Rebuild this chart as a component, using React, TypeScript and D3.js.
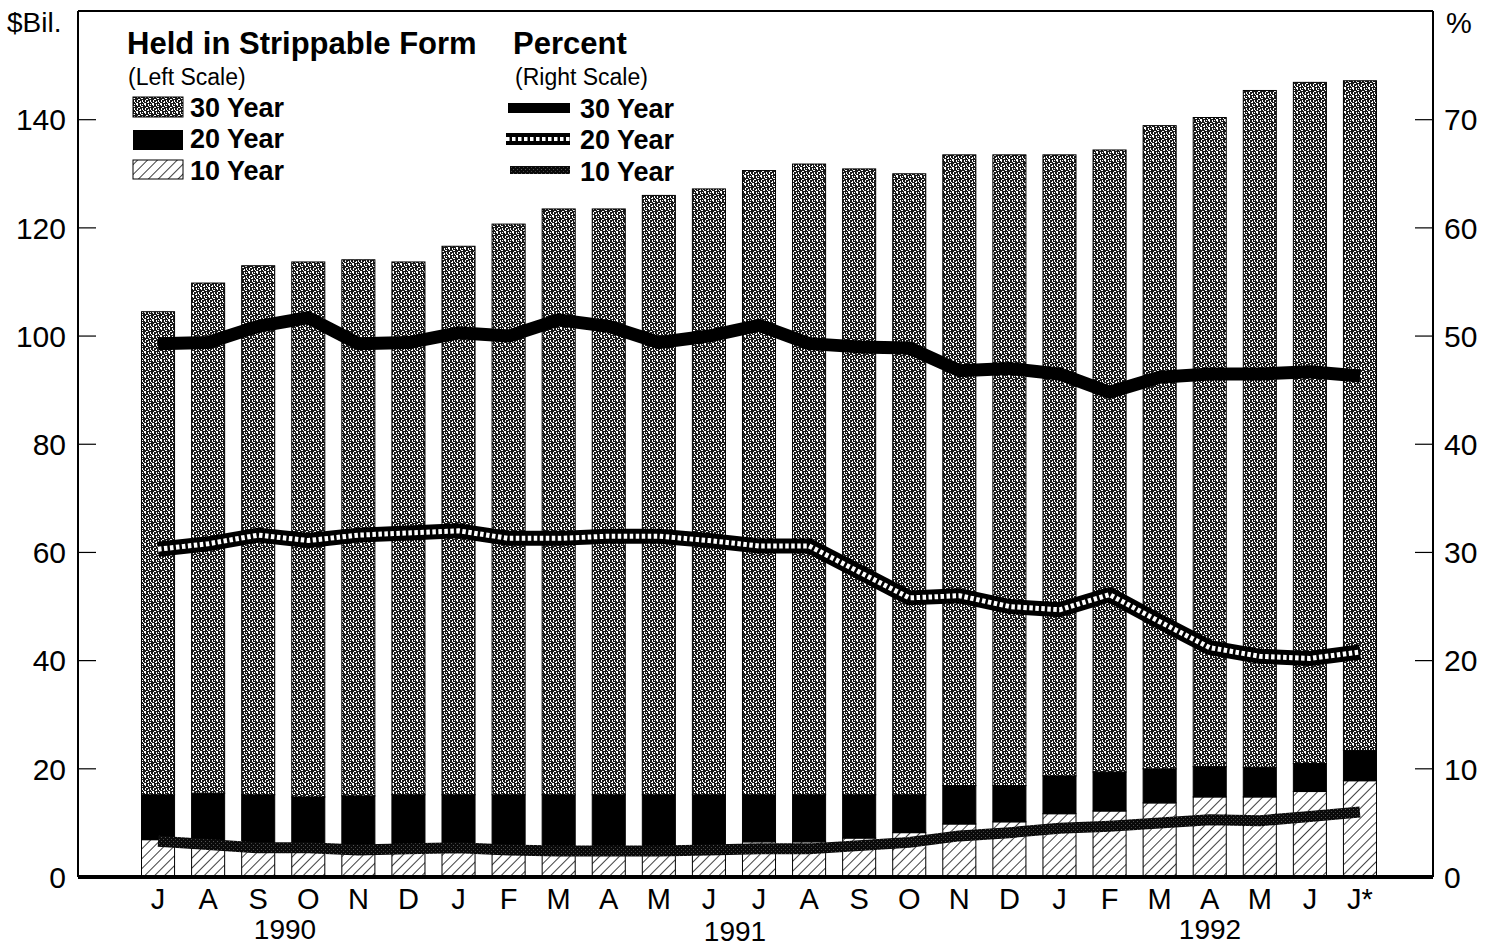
import React from "react";
import * as d3 from "d3";

const months = ["J","A","S","O","N","D","J","F","M","A","M","J","J","A","S","O","N","D","J","F","M","A","M","J","J*"];
const years = [
  { label: "1990", from: 0, to: 5 },
  { label: "1991", from: 6, to: 17 },
  { label: "1992", from: 18, to: 24 },
];
// $ billions held in strippable form (left scale)
const tenYear = [6.9, 5.8, 5.3, 5.0, 4.7, 5.0, 5.0, 4.7, 4.5, 4.5, 4.5, 4.8, 6.5, 6.5, 7.2, 8.2, 9.8, 10.2, 11.7, 12.2, 13.7, 14.8, 14.8, 15.8, 17.8];
const twentyYear = [8.3, 9.7, 9.9, 9.8, 10.3, 10.2, 10.2, 10.5, 10.7, 10.7, 10.7, 10.4, 8.7, 8.7, 8.0, 7.0, 7.1, 6.7, 7.0, 7.2, 6.3, 5.6, 5.5, 5.2, 5.6];
const thirtyYear = [89.3, 94.3, 97.8, 98.9, 99.1, 98.5, 101.4, 105.5, 108.3, 108.3, 110.8, 112.0, 115.4, 116.6, 115.7, 114.8, 116.6, 116.6, 114.8, 115.0, 118.9, 120.0, 125.1, 125.9, 123.8];
// percent held in strippable form (right scale)
const pct30 = [49.3, 49.4, 50.9, 51.7, 49.3, 49.4, 50.3, 50.0, 51.5, 50.9, 49.4, 50.0, 51.0, 49.3, 49.0, 48.9, 46.8, 47.0, 46.5, 44.8, 46.2, 46.5, 46.5, 46.7, 46.3];
const pct20 = [30.3, 30.8, 31.6, 31.1, 31.6, 31.8, 32.0, 31.3, 31.3, 31.5, 31.5, 31.1, 30.6, 30.6, 28.2, 25.8, 26.0, 25.0, 24.7, 26.1, 23.6, 21.2, 20.4, 20.2, 20.8];
const pct10 = [3.3, 3.0, 2.7, 2.7, 2.5, 2.6, 2.7, 2.5, 2.4, 2.4, 2.4, 2.5, 2.6, 2.6, 2.9, 3.2, 3.8, 4.1, 4.5, 4.7, 5.0, 5.3, 5.2, 5.6, 6.0];
const leftTicks = [0, 20, 40, 60, 80, 100, 120, 140];
const rightTicks = [0, 10, 20, 30, 40, 50, 60, 70];

const FONT = "'Liberation Sans', Arial, Helvetica, sans-serif";

export default function App() {
  const W = 1485, H = 948;
  const xL = 78, xR = 1433, yTop = 11, yBase = 877;
  const idx = months.map((_, i) => i);
  const x = d3.scaleBand<number>().domain(idx).range([133, 1385]).paddingInner(0.34).paddingOuter(0.17);
  const yL = d3.scaleLinear().domain([0, 160]).range([yBase, yTop + 0.5]);
  const yR = d3.scaleLinear().domain([0, 80]).range([yBase, yTop + 0.5]);
  const cx = (i: number) => (x(i) as number) + x.bandwidth() / 2;

  const stack = d3.stack<number>().keys(["ten", "twenty", "thirty"]).value((i, k) =>
    k === "ten" ? tenYear[i] : k === "twenty" ? twentyYear[i] : thirtyYear[i]
  )(idx);
  const fills = ["url(#hatch)", "#000", "url(#stipple)"];

  const line = d3.line<number>().x((_, i) => cx(i)).y((v) => yR(v));

  const stippleDots: [number, number, number, number][] = [
    [0, 0, 2, 1], [1, 1, 1, 1], [4, 0, 1, 2], [5, 2, 2, 1], [2, 3, 2, 1], [1, 4, 1, 2],
    [6, 4, 1, 2], [7, 6, 1, 1], [3, 6, 2, 1], [4, 5, 1, 1], [0, 7, 2, 1], [6, 0, 1, 1],
  ];

  return (
    <svg width={W} height={H} style={{ display: "block", position: "absolute", left: 0, top: 0, background: "#fff" }}>
      <defs>
        <pattern id="stipple" patternUnits="userSpaceOnUse" width={8} height={8}>
          <rect width={8} height={8} fill="#1a1a1a" />
          {stippleDots.map((d, i) => (
            <rect key={i} x={d[0]} y={d[1]} width={d[2]} height={d[3]} fill="#fff" />
          ))}
        </pattern>
        <pattern id="hatch" patternUnits="userSpaceOnUse" width={7} height={7} patternTransform="rotate(45)">
          <rect width={7} height={7} fill="#fff" />
          <line x1={0} y1={0} x2={0} y2={7} stroke="#000" strokeWidth={1.5} />
        </pattern>
        <pattern id="dark" patternUnits="userSpaceOnUse" width={4} height={4}>
          <rect width={4} height={4} fill="#0a0a0a" />
          <rect x={1} y={1} width={1} height={1} fill="#555" />
          <rect x={3} y={3} width={1} height={1} fill="#444" />
        </pattern>
        <clipPath id="plot">
          <rect x={xL} y={yTop} width={xR - xL} height={yBase - yTop} />
        </clipPath>
      </defs>

      {/* bars */}
      <g>
        {stack.map((layer, li) =>
          layer.map((seg, i) => (
            <rect
              key={`${li}-${i}`}
              x={x(i)}
              width={x.bandwidth()}
              y={yL(seg[1])}
              height={yL(seg[0]) - yL(seg[1])}
              fill={fills[li]}
              stroke="#000"
              strokeWidth={1}
            />
          ))
        )}
      </g>

      {/* lines */}
      <g clipPath="url(#plot)" fill="none" strokeLinejoin="round">
        <path d={line(pct10) || ""} stroke="url(#dark)" strokeWidth={11} />
        <path d={line(pct20) || ""} stroke="#000" strokeWidth={15} />
        <path d={line(pct20) || ""} stroke="#fff" strokeWidth={5} strokeDasharray="3.5 2.5" />
        <path d={line(pct30) || ""} stroke="#000" strokeWidth={13} />
      </g>

      {/* frame */}
      <g stroke="#000" fill="none">
        <line x1={xL} y1={yTop} x2={xR} y2={yTop} strokeWidth={2} />
        <line x1={xL} y1={yTop} x2={xL} y2={yBase} strokeWidth={2} />
        <line x1={xR} y1={yTop} x2={xR} y2={yBase} strokeWidth={2} />
        <line x1={xL} y1={yBase} x2={xR} y2={yBase} strokeWidth={4} />
      </g>

      {/* left axis */}
      <g fontFamily={FONT} fontSize={30} fill="#000">
        {leftTicks.map((t) => (
          <g key={t}>
            {t > 0 && <line x1={xL} x2={xL + 18} y1={yL(t)} y2={yL(t)} stroke="#000" strokeWidth={1.2} />}
            <text x={66} y={yL(t)} dy="0.36em" textAnchor="end">{t}</text>
          </g>
        ))}
        <text x={7} y={32} fontSize={28}>$Bil.</text>
      </g>

      {/* right axis */}
      <g fontFamily={FONT} fontSize={30} fill="#000">
        {rightTicks.map((t) => (
          <g key={t}>
            {t > 0 && <line x1={xR - 18} x2={xR} y1={yR(t)} y2={yR(t)} stroke="#000" strokeWidth={1.2} />}
            <text x={1444} y={yR(t)} dy="0.36em" textAnchor="start">{t}</text>
          </g>
        ))}
        <text x={1446} y={33} fontSize={29}>%</text>
      </g>

      {/* x axis labels */}
      <g fontFamily={FONT} fontSize={29} fill="#000" textAnchor="middle">
        {months.map((m, i) => (
          <text key={i} x={cx(i)} y={909}>{m}</text>
        ))}
        {years.map((yv, i) => (
          <text key={yv.label} x={i === 0 ? 285 : i === 1 ? 735 : 1210} y={i === 1 ? 941 : 939} fontSize={28}>{yv.label}</text>
        ))}
      </g>

      {/* legend */}
      <g fontFamily={FONT} fill="#000">
        <text x={127} y={54} fontSize={31} fontWeight="bold">Held in Strippable Form</text>
        <text x={128} y={85} fontSize={23}>(Left Scale)</text>
        <rect x={133} y={97} width={50} height={20} fill="url(#stipple)" stroke="#000" strokeWidth={1} />
        <rect x={133} y={130} width={50} height={20} fill="#000" />
        <rect x={133} y={160} width={50} height={19} fill="url(#hatch)" stroke="#000" strokeWidth={1} />
        <text x={190} y={117} fontSize={27} fontWeight="bold">30 Year</text>
        <text x={190} y={148} fontSize={27} fontWeight="bold">20 Year</text>
        <text x={190} y={180} fontSize={27} fontWeight="bold">10 Year</text>

        <text x={513} y={54} fontSize={31} fontWeight="bold">Percent</text>
        <text x={515} y={85} fontSize={23}>(Right Scale)</text>
        <line x1={508} x2={570} y1={108} y2={108} stroke="#000" strokeWidth={10} />
        <line x1={506} x2={570} y1={139} y2={139} stroke="#000" strokeWidth={12} />
        <line x1={506} x2={570} y1={139} y2={139} stroke="#fff" strokeWidth={4} strokeDasharray="3.5 2.5" />
        <line x1={510} x2={570} y1={170} y2={170} stroke="url(#dark)" strokeWidth={8} />
        <text x={580} y={118} fontSize={27} fontWeight="bold">30 Year</text>
        <text x={580} y={149} fontSize={27} fontWeight="bold">20 Year</text>
        <text x={580} y={181} fontSize={27} fontWeight="bold">10 Year</text>
      </g>
    </svg>
  );
}
